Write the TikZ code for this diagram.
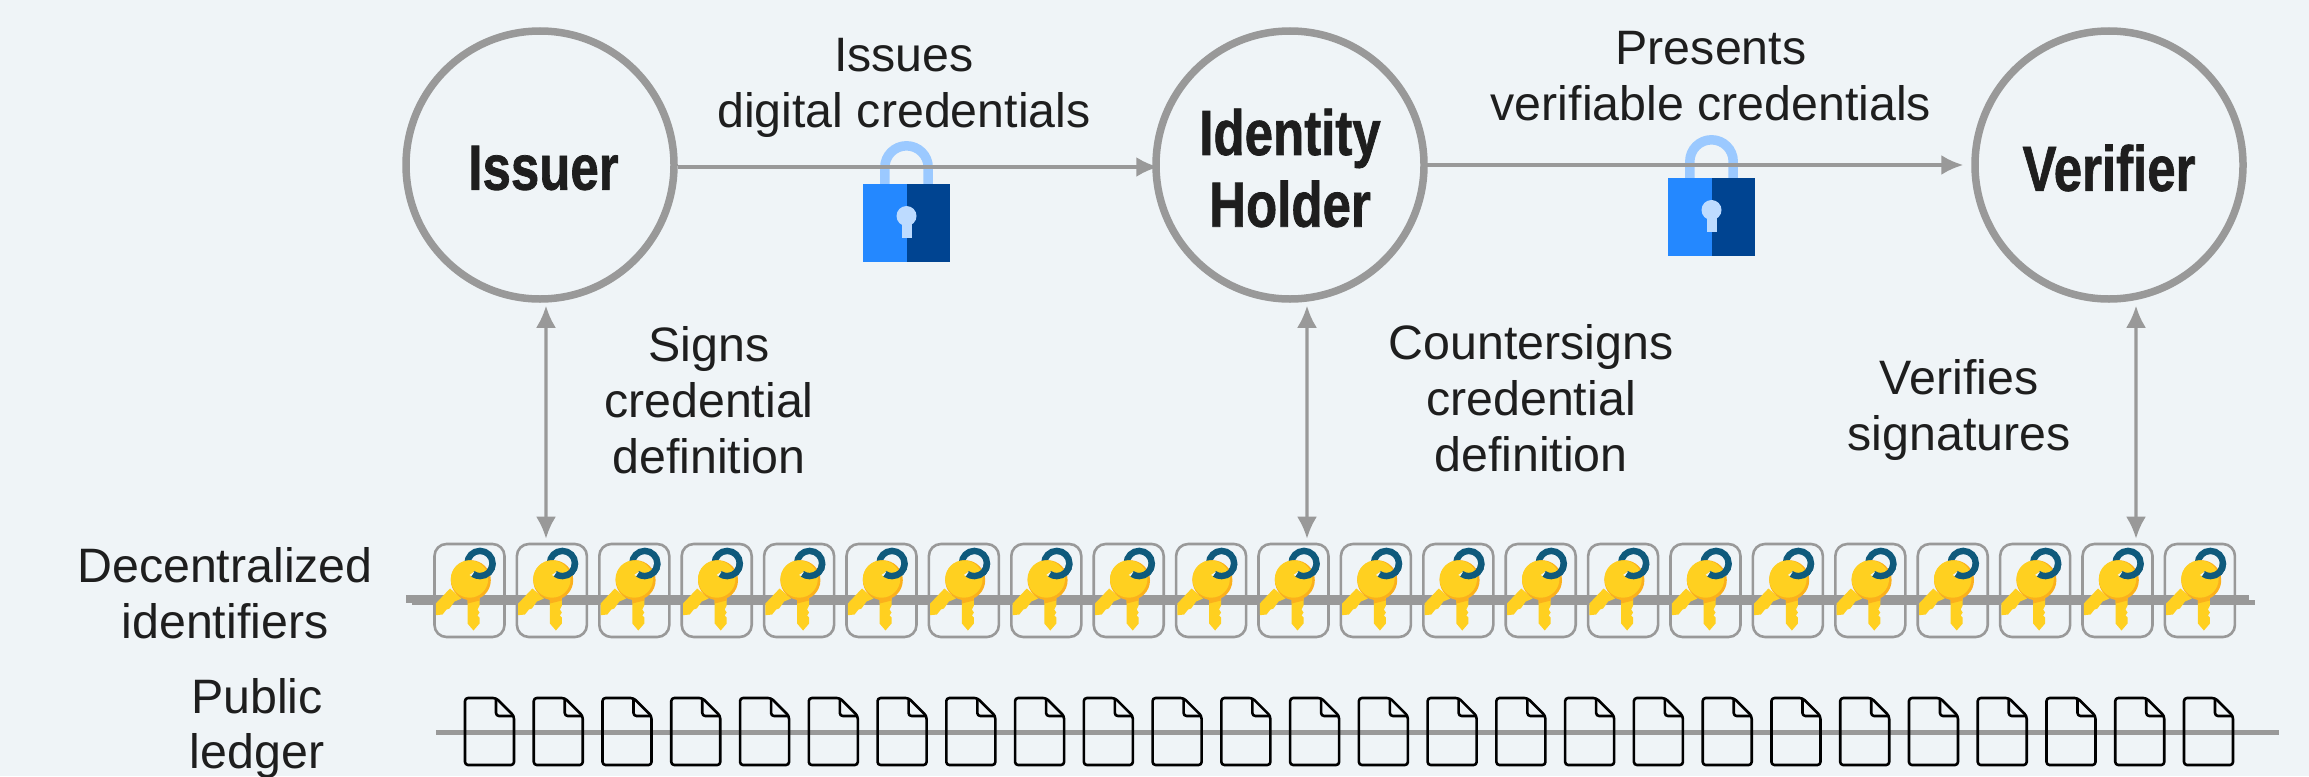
\documentclass[tikz,border=0pt]{standalone}
\usepackage{fontspec}
\usetikzlibrary{arrows.meta}
\setmainfont{Liberation Sans}
\newfontfamily\partyfont[BoldFeatures={FakeBold=1.2}]{Liberation Sans}
\definecolor{paper}{HTML}{EFF4F7}
\definecolor{rule}{HTML}{999999}
\definecolor{ink}{HTML}{1E1E1E}
\definecolor{keygold}{HTML}{FFD020}
\definecolor{keyshade}{HTML}{FBB01C}
\definecolor{keyring}{HTML}{0F5A7C}
\definecolor{lockmid}{HTML}{2488FF}
\definecolor{lockdark}{HTML}{004491}
\definecolor{lockhook}{HTML}{9BC9FF}
\definecolor{lockhole}{HTML}{BDDBFF}
\newcommand{\partyname}[1]{\raisebox{-3bp}[\height][\depth]{\scalebox{.8}[1]{\partyfont\bfseries #1}}}
\tikzset{
  party/.style={circle,draw=rule,line width=7.5bp,fill=none,inner sep=0pt,minimum size=268bp,
    font=\fontsize{64}{72}\selectfont,text=ink,align=center},
  caption/.style={font=\fontsize{48.5}{56}\selectfont,text=ink,align=center,inner sep=0pt},
  link/.style={draw=rule,line width=3.2bp,>={Latex[length=22bp,width=20bp]}},
  keybox/.style={draw=rule,line width=2.6bp,rounded corners=12bp,minimum width=70bp,minimum height=93bp,inner sep=0pt},
  docbox/.style={minimum width=49bp,minimum height=67bp,inner sep=0pt,outer sep=0pt},
  docsheet/.style={draw=black,line width=2.6bp,rounded corners=3bp,line join=round},
  keyicon/.pic={
    % ring, part behind the head
    \draw[keyring,line width=6.4bp] (10.5,-27) circle (12.6);
    % blades
    \fill[keygold] (-19.5,-2) -- (-33.7,13) -- (-33.7,24.7) -- (-27,24) -- (-23,19) -- (-20,18) -- (-15,11) -- (-8,8) -- cycle;
    \fill[keygold] (-2,5) -- (-2,33) -- (4,40) -- (10,33) -- (10,27) -- (8,25) -- (10,22) -- (8,19) -- (10,15) -- (10,5) -- cycle;
    \fill[keyshade] (-2,8) -- (10,8) -- (10,10) -- (-2,13) -- cycle;
    % head
    \fill[keyshade] (1.3,-10.3) circle (20);
    \fill[keygold] (0,-11.5) circle (18.7);
    % ring, part in front of the head
    \draw[keyring,line width=6.4bp] (23.1,-27) arc (0:125:12.6);
    \fill[paper] (0,-15.5) -- (5,-19) -- (2,-14.5) -- cycle;
  },
  lockicon/.pic={
    \draw[lockhook,line width=9.5bp] (-21.7,0) -- (-21.7,-16.5) arc (180:360:21.7) -- (21.7,0);
    \fill[lockmid] (-43.5,0) rectangle (0,78);
    \fill[lockdark] (0,0) rectangle (43.5,78);
    \fill[lockhole] (0,32) circle (10);
    \fill[lockhole] (-5,36) rectangle (5,54);
  },
}
\begin{document}
\begin{tikzpicture}[x=1bp,y=-1bp]
  \fill[paper] (0,0) rectangle (2309,776);
  \useasboundingbox (0,0) rectangle (2309,776);
  % Node: padlocks
  \pic at (906.5,184) {lockicon};
  \pic at (1711.5,178) {lockicon};
  % Node: issuer
  \node[party] (issuer) at (540,165) {\hspace*{7bp}\partyname{Issuer}};
  % Node: holder
  \node[party] (holder) at (1290,165) {\partyname{Identity}\\\partyname{Holder}};
  % Node: verifier
  \node[party] (verifier) at (2109,165) {\partyname{Verifier}};
  % Ledger strips
  \draw[rule,line width=8bp] (406,599) -- (2249,599);
  \draw[rule,line width=5bp] (412,602) -- (2255,602);
  \draw[rule,line width=5bp] (436,732) -- (2279,732);
  % Node: key boxes
  \foreach \i in {1,...,22}{
    \node[keybox] (key\i) at ({469.5+82.4*(\i-1)},590.5) {};
    \pic at (key\i.center) {keyicon};
  }
  % Node: ledger documents
  \foreach \i in {1,...,26}{
    \node[docbox] (doc\i) at ({489.5+68.76*(\i-1)},731.5) {};
    \draw[docsheet] (doc\i.north west) -- ([xshift=31bp]doc\i.north west) -- ([yshift=-18bp]doc\i.north east)
      -- (doc\i.south east) -- (doc\i.south west) -- cycle;
    \draw[docsheet] ([xshift=31bp]doc\i.north west) -- ([xshift=31bp,yshift=-18bp]doc\i.north west) -- ([yshift=-18bp]doc\i.north east);
  }
  % Edge: issuer -> holder
  \draw[link,->] ([yshift=-2bp]issuer.east) -- ([xshift=6bp,yshift=-2bp]holder.west);
  % Edge: holder -> verifier
  \draw[link,->] (holder) -- ([xshift=-8bp]verifier.west);
  % Edge: issuer <-> key boxes
  \draw[link,<->] ([xshift=6bp,yshift=-3bp]issuer.south) -- ([xshift=-5.9bp,yshift=4bp]key2.north);
  % Edge: holder <-> key boxes
  \draw[link,<->] ([xshift=17bp,yshift=-3bp]holder.south) -- ([xshift=13.5bp,yshift=4bp]key11.north);
  % Edge: verifier <-> key boxes
  \draw[link,<->] ([xshift=27bp,yshift=-3bp]verifier.south) -- ([xshift=18.5bp,yshift=4bp]key21.north);
  % Labels
  \node[caption] (issues) at (904,88) {Issues\\digital credentials};
  \node[caption] (presents) at (1711,76) {Presents\\verifiable credentials};
  \node[caption] (signs) at (709,400) {Signs\\credential\\definition};
  \node[caption] (countersigns) at (1531,398) {Countersigns\\credential\\definition};
  \node[caption] (verifies) at (1959,410) {Verifies\\signatures};
  \node[caption] (dids) at (225,593) {Decentralized\\identifiers};
  \node[caption] (ledger) at (257,728.5) {Public\\ledger};
\end{tikzpicture}
\end{document}
